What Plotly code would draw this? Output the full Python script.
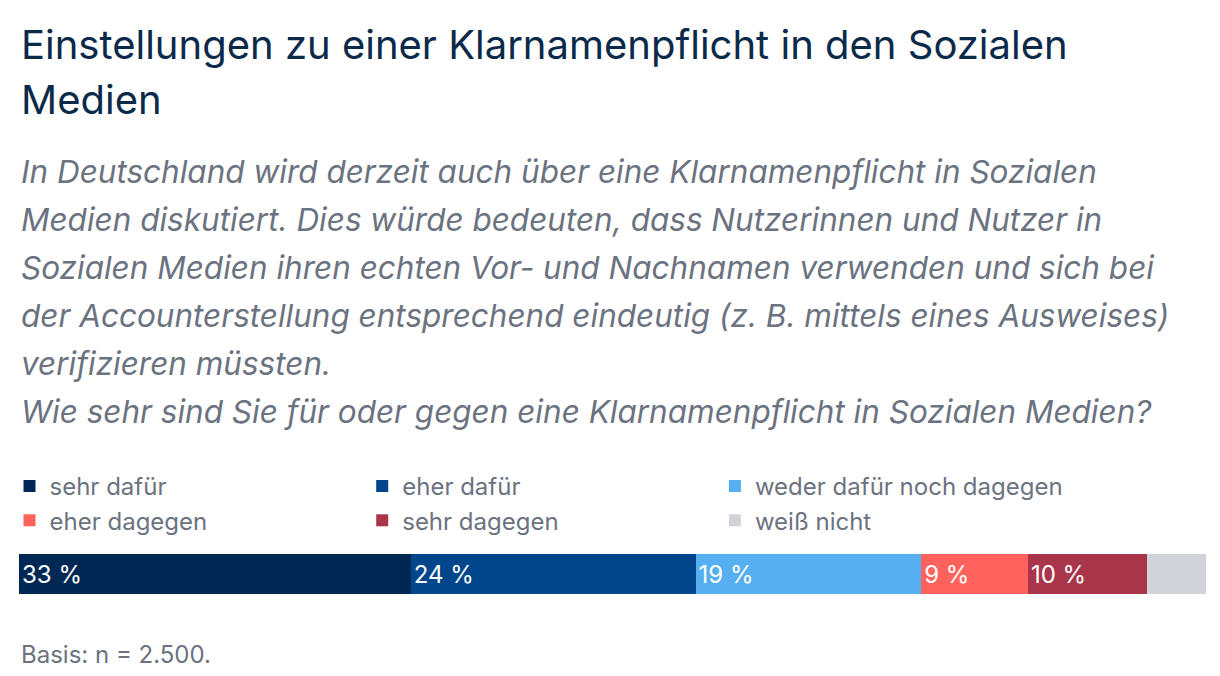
import plotly.graph_objects as go

categories = ["sehr dafür", "eher dafür", "weder dafür noch dagegen", "eher dagegen", "sehr dagegen", "weiß nicht"]
values = [33, 24, 19, 9, 10, 5]
labels = ["33 %", "24 %", "19 %", "9 %", "10 %", ""]
colors = ["#002855", "#00468b", "#56aff0", "#ff625c", "#a8354a", "#d0d4d9"]

title_lines = ["Einstellungen zu einer Klarnamenpflicht in den Sozialen", "Medien"]
subtitle_lines = [
    "In Deutschland wird derzeit auch über eine Klarnamenpflicht in Sozialen",
    "Medien diskutiert. Dies würde bedeuten, dass Nutzerinnen und Nutzer in",
    "Sozialen Medien ihren echten Vor- und Nachnamen verwenden und sich bei",
    "der Accounterstellung entsprechend eindeutig (z. B. mittels eines Ausweises)",
    "verifizieren müssten.",
    "Wie sehr sind Sie für oder gegen eine Klarnamenpflicht in Sozialen Medien?",
]
note = "Basis: n = 2.500."

fig = go.Figure()
for cat, v, lab, c in zip(categories, values, labels, colors):
    fig.add_trace(go.Bar(
        x=[v], y=[""], orientation="h", name=cat, marker_color=c,
        marker_line_width=0, width=0.77, text=[lab], textposition="inside",
        insidetextanchor="start", textfont=dict(color="white", size=24),
        hoverinfo="skip"))

H = 52  # plot height in px
def py(px):
    return (588 - px) / H

ann = []
for i, t in enumerate(title_lines):
    ann.append(dict(text=t, x=0, y=py(32 + 55 * i), xref="paper", yref="paper",
                    xanchor="left", yanchor="middle", align="left", showarrow=False,
                    font=dict(size=40, color="#0b2a4a")))
for i, t in enumerate(subtitle_lines):
    ann.append(dict(text="<i>" + t + "</i>", x=0, y=py(159 + 48 * i), xref="paper",
                    yref="paper", xanchor="left", yanchor="middle", align="left",
                    showarrow=False, font=dict(size=31.5, color="#6b7280")))
ann.append(dict(text=note, x=0, y=py(642), xref="paper", yref="paper", xanchor="left",
                yanchor="middle", align="left", showarrow=False,
                font=dict(size=24, color="#6b7280")))

fig.update_layout(
    width=1220, height=676, barmode="stack",
    font=dict(family="Inter", color="#6b7280"),
    margin=dict(l=2, r=22, t=540, b=84),
    plot_bgcolor="white", paper_bgcolor="white",
    xaxis=dict(visible=False, range=[0, 100]),
    yaxis=dict(visible=False, range=[-0.5, 0.5]),
    showlegend=True,
    legend=dict(orientation="h", x=-0.008, xanchor="left", y=py(452), yanchor="top",
                font=dict(size=24, color="#6b7280"), traceorder="normal",
                itemclick=False),
    annotations=ann,
)
fig.write_html("out.html")
